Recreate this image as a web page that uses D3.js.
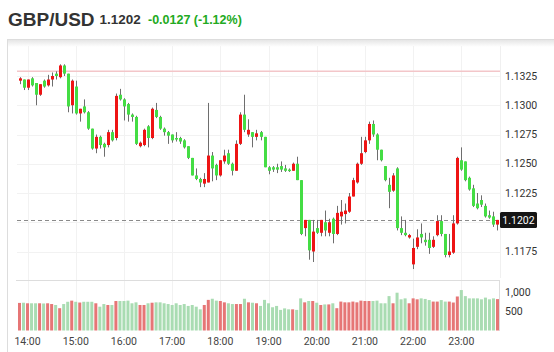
<!DOCTYPE html>
<html>
<head>
<meta charset="utf-8">
<script src="https://cdn.jsdelivr.net/npm/d3@7"></script>
<style>
  body { margin: 0; background: #fff; }
  svg { display: block; }
  .tick-label { font-family: Roboto, "Liberation Sans", Arial, sans-serif; font-size: 10.5px; fill: #333; }
</style>
</head>
<body>
<div id="chart"></div>
<script>
// 5 minute candles, 13:50 -> 23:45
var startTime = "13:50", stepMinutes = 5;

var opens = [1.1321,1.1322,1.1315,1.1323,1.1319,1.1309,1.1321,1.1317,1.1322,1.1327,
  1.1324,1.1334,1.1327,1.1300,1.1316,1.1293,1.1299,1.1294,1.1280,1.1263,
  1.1273,1.1267,1.1266,1.1277,1.1272,1.1309,1.1305,1.1301,1.1292,1.1290,
  1.1265,1.1266,1.1282,1.1272,1.1296,1.1290,1.1280,1.1277,1.1275,1.1272,
  1.1272,1.1270,1.1265,1.1255,1.1240,1.1237,1.1233,1.1234,1.1257,1.1249,
  1.1240,1.1252,1.1259,1.1250,1.1244,1.1267,1.1292,1.1275,1.1277,1.1273,
  1.1277,1.1273,1.1247,1.1247,1.1247,1.1248,1.1246,1.1245,1.1244,1.1250,
  1.1236,1.1195,1.1202,1.1175,1.1195,1.1191,1.1200,1.1191,1.1203,1.1190,
  1.1205,1.1207,1.1209,1.1222,1.1234,1.1250,1.1260,1.1270,1.1284,1.1275,
  1.1262,1.1248,1.1232,1.1227,1.1246,1.1195,1.1191,1.1187,1.1164,1.1179,
  1.1190,1.1185,1.1185,1.1179,1.1189,1.1201,1.1190,1.1172,1.1174,1.1199,
  1.1253,1.1252,1.1238,1.1229,1.1216,1.1219,1.1214,1.1206,1.1205,1.1198];

var highs = [1.1324,1.1322,1.1322,1.1324,1.1319,1.1318,1.1322,1.1326,1.1328,1.1329,
  1.1335,1.1335,1.1327,1.1322,1.1321,1.1297,1.1305,1.1295,1.1280,1.1275,
  1.1274,1.1268,1.1279,1.1279,1.1310,1.1314,1.1306,1.1302,1.1293,1.1291,
  1.1269,1.1280,1.1283,1.1298,1.1302,1.1291,1.1281,1.1278,1.1275,1.1277,
  1.1273,1.1271,1.1265,1.1255,1.1246,1.1238,1.1242,1.1302,1.1260,1.1250,
  1.1253,1.1262,1.1262,1.1251,1.1270,1.1294,1.1309,1.1288,1.1277,1.1279,
  1.1278,1.1273,1.1248,1.1248,1.1250,1.1252,1.1249,1.1246,1.1251,1.1256,
  1.1236,1.1202,1.1202,1.1202,1.1202,1.1202,1.1210,1.1203,1.1204,1.1214,
  1.1219,1.1216,1.1225,1.1238,1.1251,1.1273,1.1273,1.1286,1.1287,1.1276,
  1.1262,1.1248,1.1238,1.1242,1.1247,1.1205,1.1202,1.1190,1.1186,1.1194,
  1.1199,1.1191,1.1191,1.1188,1.1206,1.1206,1.1190,1.1190,1.1206,1.1256,
  1.1264,1.1252,1.1239,1.1232,1.1225,1.1223,1.1216,1.1210,1.1209,1.1202];

var lows = [1.1318,1.1313,1.1313,1.1316,1.1300,1.1308,1.1315,1.1316,1.1316,1.1322,
  1.1323,1.1325,1.1294,1.1293,1.1292,1.1286,1.1293,1.1279,1.1262,1.1259,
  1.1263,1.1256,1.1264,1.1269,1.1270,1.1304,1.1287,1.1286,1.1286,1.1266,
  1.1264,1.1265,1.1264,1.1271,1.1289,1.1279,1.1274,1.1267,1.1268,1.1269,
  1.1267,1.1263,1.1254,1.1240,1.1236,1.1230,1.1230,1.1234,1.1235,1.1236,
  1.1239,1.1250,1.1249,1.1240,1.1244,1.1266,1.1277,1.1273,1.1264,1.1270,
  1.1270,1.1247,1.1241,1.1243,1.1242,1.1243,1.1243,1.1243,1.1244,1.1236,
  1.1189,1.1188,1.1168,1.1166,1.1190,1.1188,1.1188,1.1188,1.1182,1.1189,
  1.1198,1.1199,1.1208,1.1222,1.1233,1.1249,1.1259,1.1267,1.1273,1.1253,
  1.1252,1.1235,1.1212,1.1226,1.1193,1.1189,1.1188,1.1186,1.1160,1.1177,
  1.1182,1.1180,1.1173,1.1178,1.1188,1.1188,1.1170,1.1170,1.1173,1.1198,
  1.1244,1.1235,1.1227,1.1213,1.1211,1.1213,1.1204,1.1203,1.1196,1.1193];

var closes = [1.1323,1.1315,1.1322,1.1317,1.1309,1.1318,1.1316,1.1322,1.1325,1.1325,
  1.1334,1.1327,1.1299,1.1321,1.1293,1.1297,1.1294,1.1280,1.1263,1.1273,
  1.1266,1.1264,1.1277,1.1270,1.1308,1.1305,1.1299,1.1292,1.1290,1.1267,
  1.1268,1.1279,1.1272,1.1297,1.1290,1.1280,1.1277,1.1274,1.1270,1.1271,
  1.1269,1.1264,1.1255,1.1240,1.1237,1.1234,1.1237,1.1257,1.1246,1.1240,
  1.1253,1.1257,1.1250,1.1244,1.1267,1.1292,1.1279,1.1279,1.1273,1.1276,
  1.1273,1.1247,1.1244,1.1245,1.1245,1.1245,1.1244,1.1244,1.1250,1.1236,
  1.1190,1.1202,1.1176,1.1192,1.1191,1.1202,1.1193,1.1200,1.1190,1.1208,
  1.1209,1.1210,1.1222,1.1236,1.1250,1.1259,1.1270,1.1284,1.1275,1.1262,
  1.1253,1.1236,1.1226,1.1240,1.1195,1.1191,1.1189,1.1189,1.1178,1.1187,
  1.1187,1.1183,1.1178,1.1185,1.1201,1.1190,1.1172,1.1175,1.1199,1.1255,
  1.1245,1.1236,1.1228,1.1214,1.1212,1.1215,1.1205,1.1204,1.1198,1.1202];

var volumes = [730,735,720,720,720,720,715,720,700,675,
  590,700,760,790,760,740,760,760,760,720,
  630,700,675,675,780,780,780,790,720,745,
  675,675,720,735,745,745,720,700,675,720,
  675,700,650,675,630,560,675,810,840,790,
  780,745,720,700,700,700,840,745,735,720,
  650,810,720,615,650,545,585,560,560,545,
  850,745,780,780,735,675,690,690,720,590,
  765,745,745,765,745,790,780,780,780,790,
  720,720,910,720,1000,825,850,720,850,825,
  850,835,805,765,765,805,765,765,740,900,
  1070,910,850,850,850,825,870,825,850,830];

var priceTicks = [1.1175, 1.1200, 1.1225, 1.1250, 1.1275, 1.1300, 1.1325];
var volumeTicks = [500, 1000];
var hourLabels = ["14:00","15:00","16:00","17:00","18:00","19:00","20:00","21:00","22:00","23:00"];
var prevClose = 1.1329, lastPrice = 1.1202, change = -0.0127, changePct = -1.12;

var width = 554, height = 352;
var upColor = "#ee1414", downColor = "#44dd44";
var upVol = "#e67676", downVol = "#a9dcb2";

var parseT = d3.timeParse("%H:%M");
var t0 = parseT(startTime);
var times = opens.map(function(d, i) { return d3.timeMinute.offset(t0, i * stepMinutes); });
var candles = opens.map(function(o, i) {
  return { t: times[i], o: o, h: highs[i], l: lows[i], c: closes[i], v: volumes[i] };
});

var svg = d3.select('#chart').append('svg').attr('width', width).attr('height', height);

var x = d3.scaleBand().domain(times).range([17, 500]).padding(0.25);
var y = d3.scaleLinear().domain([1.1175, 1.1325]).range([251.5, 76]);
var yv = d3.scaleLinear().domain([0, 1000]).range([330.5, 292.7]);
var xc = function(t) { return x(t) + x.bandwidth() / 2; };

// header
svg.append('text').attr('x', 8).attr('y', 25.5)
  .style('font-family', '"Liberation Sans", Arial, sans-serif').style('font-weight', 'bold')
  .style('font-size', '19px').attr('fill', '#333').text('GBP/USD');
svg.append('text').attr('x', 99.5).attr('y', 24)
  .style('font-family', '"Liberation Sans", Arial, sans-serif').style('font-weight', 'bold')
  .style('font-size', '13.5px').attr('fill', '#333').text(lastPrice.toFixed(4));
svg.append('text').attr('x', 148).attr('y', 24)
  .style('font-family', '"Liberation Sans", Arial, sans-serif').style('font-weight', 'bold')
  .style('font-size', '12.5px').attr('fill', '#22aa22')
  .text(change.toFixed(4) + ' (' + changePct.toFixed(2) + '%)');

// frame
var grad = svg.append('defs').append('linearGradient').attr('id', 'shade')
  .attr('x1', 0).attr('x2', 0).attr('y1', 0).attr('y2', 1);
grad.append('stop').attr('offset', '0%').attr('stop-color', '#e6e6e6');
grad.append('stop').attr('offset', '100%').attr('stop-color', '#fff');
svg.append('rect').attr('x', 7).attr('y', 40).attr('width', width - 7).attr('height', 7).attr('fill', 'url(#shade)');
svg.append('line').attr('x1', 7).attr('x2', width).attr('y1', 39.5).attr('y2', 39.5).attr('stroke', '#ddd');
svg.append('line').attr('x1', 7.5).attr('x2', 7.5).attr('y1', 40).attr('y2', height).attr('stroke', '#ddd');

// grid
var hourTimes = hourLabels.map(function(h) { return parseT(h); });
svg.append('g').selectAll('line.vgrid').data(hourTimes).enter().append('line')
  .attr('class', 'vgrid')
  .attr('x1', function(d) { return Math.round(xc(d)) + 0.5; })
  .attr('x2', function(d) { return Math.round(xc(d)) + 0.5; })
  .attr('y1', 46).attr('y2', 330).attr('stroke', '#f2f2f2');
svg.append('g').selectAll('line.hgrid').data(priceTicks).enter().append('line')
  .attr('class', 'hgrid')
  .attr('x1', 17).attr('x2', 500)
  .attr('y1', function(d) { return Math.round(y(d)) + 0.5; })
  .attr('y2', function(d) { return Math.round(y(d)) + 0.5; })
  .attr('stroke', '#f2f2f2');
svg.append('line').attr('x1', 500.5).attr('x2', 500.5).attr('y1', 46).attr('y2', 278).attr('stroke', '#f0f0f0');

// volume panel border
svg.append('line').attr('x1', 16).attr('x2', 500).attr('y1', 280.5).attr('y2', 280.5).attr('stroke', '#ddd');
svg.append('line').attr('x1', 499.5).attr('x2', 499.5).attr('y1', 280).attr('y2', 331).attr('stroke', '#ddd');

// previous close line
svg.append('line').attr('x1', 17).attr('x2', 500)
  .attr('y1', y(prevClose)).attr('y2', y(prevClose))
  .attr('stroke', '#f3c6c9').attr('stroke-width', 1.5);

// last price dashed line
svg.append('line').attr('x1', 17).attr('x2', 500)
  .attr('y1', Math.round(y(lastPrice)) + 0.5).attr('y2', Math.round(y(lastPrice)) + 0.5)
  .attr('stroke', '#8a8a8a').attr('stroke-dasharray', '4,3');

// volume bars
svg.append('g').selectAll('rect.vol').data(candles).enter().append('rect')
  .attr('class', 'vol')
  .attr('x', function(d) { return x(d.t); })
  .attr('width', x.bandwidth())
  .attr('y', function(d) { return yv(d.v); })
  .attr('height', function(d) { return yv(0) - yv(d.v); })
  .attr('fill', function(d) { return d.c > d.o ? upVol : downVol; });

// candles
var cg = svg.append('g').selectAll('g.candle').data(candles).enter().append('g').attr('class', 'candle');
cg.append('line')
  .attr('x1', function(d) { return Math.round(xc(d.t)) + 0.5; })
  .attr('x2', function(d) { return Math.round(xc(d.t)) + 0.5; })
  .attr('y1', function(d) { return y(d.h); })
  .attr('y2', function(d) { return y(d.l); })
  .attr('stroke', '#6e6e6e');
cg.append('rect')
  .attr('x', function(d) { return Math.round(xc(d.t)) - 1; })
  .attr('width', 3)
  .attr('y', function(d) { return y(Math.max(d.o, d.c)); })
  .attr('height', function(d) { return Math.max(1.5, Math.abs(y(d.o) - y(d.c))); })
  .attr('fill', function(d) { return d.c > d.o ? upColor : downColor; });

// right price axis
var yAxis = svg.append('g').selectAll('text.ylab').data(priceTicks.filter(function(d) { return Math.abs(d - lastPrice) > 0.0005; }))
  .enter().append('text').attr('class', 'tick-label')
  .attr('x', 505).attr('y', function(d) { return y(d); }).attr('dy', '0.35em')
  .text(function(d) { return d.toFixed(4); });

// current price tag
svg.append('rect').attr('x', 500).attr('y', y(lastPrice) - 8).attr('width', 37).attr('height', 16)
  .attr('rx', 1.5).attr('fill', '#151515');
svg.append('text').attr('class', 'tick-label').attr('x', 518.5).attr('y', y(lastPrice)).attr('dy', '0.35em')
  .attr('text-anchor', 'middle').style('fill', '#fff').text(lastPrice.toFixed(4));

// volume axis
svg.append('g').selectAll('text.vlab').data(volumeTicks).enter().append('text')
  .attr('class', 'tick-label')
  .attr('x', 505).attr('y', function(d) { return yv(d); }).attr('dy', '0.35em')
  .text(d3.format(','));

// time axis
svg.append('g').selectAll('text.xlab').data(hourTimes).enter().append('text')
  .attr('class', 'tick-label')
  .attr('x', function(d) { return xc(d); }).attr('y', 345)
  .attr('text-anchor', 'middle').style('fill', '#444')
  .text(d3.timeFormat('%H:%M'));
</script>
</body>
</html>
